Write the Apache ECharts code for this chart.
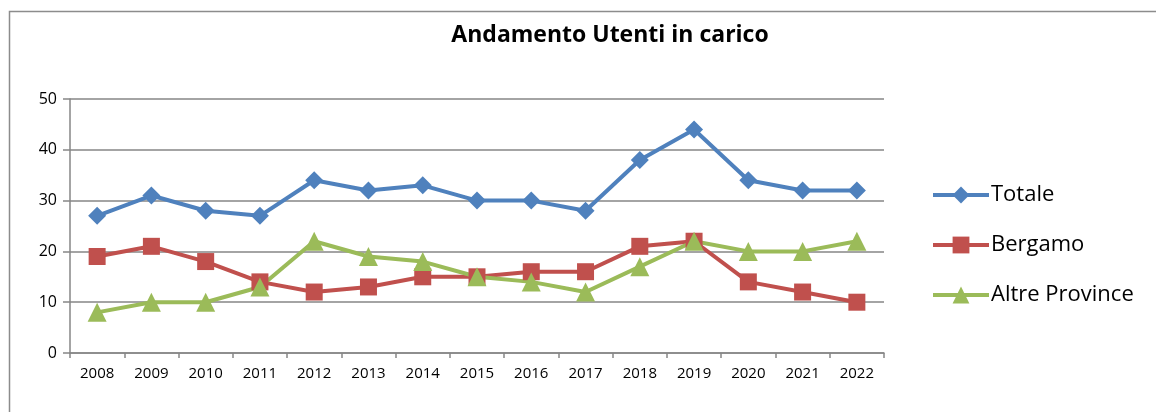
<!DOCTYPE html>
<html>
<head>
<meta charset="utf-8">
<script src="https://cdn.jsdelivr.net/npm/echarts@6/dist/echarts.min.js"></script>
<style>
  html, body { margin: 0; padding: 0; background: #fff; }
  #chart { width: 1156px; height: 412px; }
</style>
</head>
<body>
<div id="chart"></div>
<script>
// anni sull'asse x
const anni = ['2008', '2009', '2010', '2011', '2012', '2013', '2014', '2015',
  '2016', '2017', '2018', '2019', '2020', '2021', '2022'];
const totale = [27, 31, 28, 27, 34, 32, 33, 30, 30, 28, 38, 44, 34, 32, 32];
const bergamo = [19, 21, 18, 14, 12, 13, 15, 15, 16, 16, 21, 22, 14, 12, 10];
const altreProvince = [8, 10, 10, 13, 22, 19, 18, 15, 14, 12, 17, 22, 20, 20, 22];

const font = '"Open Sans", Lato, sans-serif';

function linea(name, data, color, symbol, size) {
  return {
    name: name,
    type: 'line',
    data: data,
    symbol: symbol,
    symbolSize: size,
    lineStyle: { color: color, width: 4 },
    itemStyle: { color: color },
    animation: false
  };
}

let chart = echarts.init(document.getElementById('chart'));
let option = {
  backgroundColor: '#fff',
  title: {
    text: 'Andamento Utenti in carico',
    left: 605,
    top: 19,
    textAlign: 'center',
    textStyle: { fontFamily: font, fontSize: 23, fontWeight: 'bold', color: '#000' }
  },
  graphic: [{
    type: 'rect',
    shape: { x: 9.5, y: 11.5, width: 1200, height: 500 },
    style: { fill: 'none', stroke: '#8c8c8c', lineWidth: 1.5 },
    silent: true
  }],
  grid: { left: 70, right: 272, top: 99, bottom: 59 },
  legend: {
    orient: 'vertical',
    left: 926,
    top: 179,
    itemWidth: 56,
    itemHeight: 21,
    itemGap: 28,
    lineStyle: { width: 4 },
    textStyle: { fontFamily: font, fontSize: 22, color: '#000', padding: [0, 0, 0, -3] },
    data: ['Totale', 'Bergamo', 'Altre Province']
  },
  xAxis: {
    type: 'category',
    data: anni,
    boundaryGap: true,
    axisLine: { lineStyle: { color: '#868686', width: 1.5 } },
    axisTick: { show: true, length: 5, lineStyle: { color: '#868686', width: 1.5 } },
    axisLabel: { fontFamily: font, fontSize: 15, color: '#000', margin: 13 }
  },
  yAxis: {
    type: 'value',
    min: 0,
    max: 50,
    interval: 10,
    axisLine: { show: true, lineStyle: { color: '#868686', width: 1.5 } },
    axisTick: { show: true, length: 7, lineStyle: { color: '#868686', width: 1.5 } },
    splitLine: { lineStyle: { color: '#868686', width: 1.5 } },
    axisLabel: { fontFamily: font, fontSize: 16, color: '#000', margin: 13 }
  },
  series: [
    linea('Totale', totale, '#4F81BD', 'diamond', 18),
    linea('Bergamo', bergamo, '#C0504D', 'rect', 17),
    linea('Altre Province', altreProvince, '#9BBB59', 'triangle', 19)
  ]
};
chart.setOption(option);
</script>
</body>
</html>
